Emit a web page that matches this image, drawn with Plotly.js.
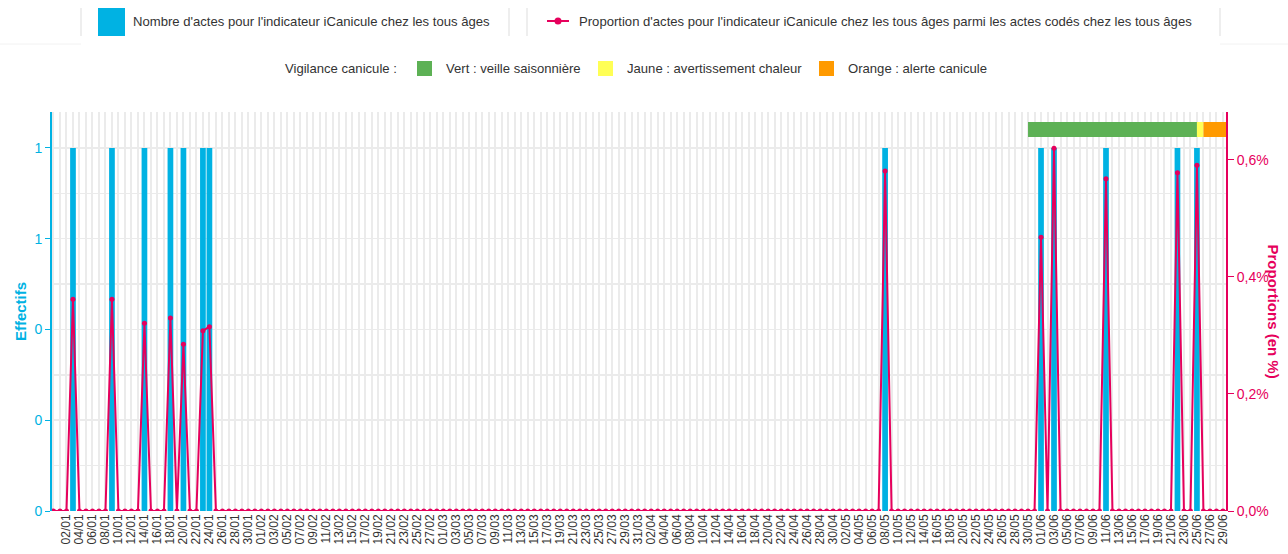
<!DOCTYPE html>
<html>
<head>
<meta charset="utf-8">
<script src="https://cdn.plot.ly/plotly-3.0.1.min.js"></script>
<style>
html,body{margin:0;padding:0;background:#fff;}
#chart{width:1288px;height:554px;}
</style>
</head>
<body>
<div id="chart"></div>
<script>
// ---------- DATA ----------
const dates = [
'2024-12-31',
'2025-01-01','2025-01-02','2025-01-03','2025-01-04','2025-01-05','2025-01-06','2025-01-07','2025-01-08','2025-01-09','2025-01-10',
'2025-01-11','2025-01-12','2025-01-13','2025-01-14','2025-01-15','2025-01-16','2025-01-17','2025-01-18','2025-01-19','2025-01-20',
'2025-01-21','2025-01-22','2025-01-23','2025-01-24','2025-01-25','2025-01-26','2025-01-27','2025-01-28','2025-01-29','2025-01-30','2025-01-31',
'2025-02-01','2025-02-02','2025-02-03','2025-02-04','2025-02-05','2025-02-06','2025-02-07','2025-02-08','2025-02-09','2025-02-10',
'2025-02-11','2025-02-12','2025-02-13','2025-02-14','2025-02-15','2025-02-16','2025-02-17','2025-02-18','2025-02-19','2025-02-20',
'2025-02-21','2025-02-22','2025-02-23','2025-02-24','2025-02-25','2025-02-26','2025-02-27','2025-02-28',
'2025-03-01','2025-03-02','2025-03-03','2025-03-04','2025-03-05','2025-03-06','2025-03-07','2025-03-08','2025-03-09','2025-03-10',
'2025-03-11','2025-03-12','2025-03-13','2025-03-14','2025-03-15','2025-03-16','2025-03-17','2025-03-18','2025-03-19','2025-03-20',
'2025-03-21','2025-03-22','2025-03-23','2025-03-24','2025-03-25','2025-03-26','2025-03-27','2025-03-28','2025-03-29','2025-03-30','2025-03-31',
'2025-04-01','2025-04-02','2025-04-03','2025-04-04','2025-04-05','2025-04-06','2025-04-07','2025-04-08','2025-04-09','2025-04-10',
'2025-04-11','2025-04-12','2025-04-13','2025-04-14','2025-04-15','2025-04-16','2025-04-17','2025-04-18','2025-04-19','2025-04-20',
'2025-04-21','2025-04-22','2025-04-23','2025-04-24','2025-04-25','2025-04-26','2025-04-27','2025-04-28','2025-04-29','2025-04-30',
'2025-05-01','2025-05-02','2025-05-03','2025-05-04','2025-05-05','2025-05-06','2025-05-07','2025-05-08','2025-05-09','2025-05-10',
'2025-05-11','2025-05-12','2025-05-13','2025-05-14','2025-05-15','2025-05-16','2025-05-17','2025-05-18','2025-05-19','2025-05-20',
'2025-05-21','2025-05-22','2025-05-23','2025-05-24','2025-05-25','2025-05-26','2025-05-27','2025-05-28','2025-05-29','2025-05-30','2025-05-31',
'2025-06-01','2025-06-02','2025-06-03','2025-06-04','2025-06-05','2025-06-06','2025-06-07','2025-06-08','2025-06-09','2025-06-10',
'2025-06-11','2025-06-12','2025-06-13','2025-06-14','2025-06-15','2025-06-16','2025-06-17','2025-06-18','2025-06-19','2025-06-20',
'2025-06-21','2025-06-22','2025-06-23','2025-06-24','2025-06-25','2025-06-26','2025-06-27','2025-06-28','2025-06-29','2025-06-30'
];

// Nombre d'actes (effectifs)
const counts = [
0,
0,0,1,0,0,0,0,0,1,0, 0,0,0,1,0,0,0,1,0,1, 0,0,1,1,0,0,0,0,0,0, 0,
0,0,0,0,0,0,0,0,0,0, 0,0,0,0,0,0,0,0,0,0, 0,0,0,0,0,0,0,0,
0,0,0,0,0,0,0,0,0,0, 0,0,0,0,0,0,0,0,0,0, 0,0,0,0,0,0,0,0,0,0, 0,
0,0,0,0,0,0,0,0,0,0, 0,0,0,0,0,0,0,0,0,0, 0,0,0,0,0,0,0,0,0,0,
0,0,0,0,0,0,0,1,0,0, 0,0,0,0,0,0,0,0,0,0, 0,0,0,0,0,0,0,0,0,0, 0,
1,0,1,0,0,0,0,0,0,0, 1,0,0,0,0,0,0,0,0,0, 0,1,0,0,1,0,0,0,0,0
];

// Proportion d'actes (en %)
const proportions = [
0,
0,0,0.362,0,0,0,0,0,0.362,0, 0,0,0,0.321,0,0,0,0.330,0,0.285, 0,0,0.308,0.315,0,0,0,0,0,0, 0,
0,0,0,0,0,0,0,0,0,0, 0,0,0,0,0,0,0,0,0,0, 0,0,0,0,0,0,0,0,
0,0,0,0,0,0,0,0,0,0, 0,0,0,0,0,0,0,0,0,0, 0,0,0,0,0,0,0,0,0,0, 0,
0,0,0,0,0,0,0,0,0,0, 0,0,0,0,0,0,0,0,0,0, 0,0,0,0,0,0,0,0,0,0,
0,0,0,0,0,0,0,0.581,0,0, 0,0,0,0,0,0,0,0,0,0, 0,0,0,0,0,0,0,0,0,0, 0,
0.468,0,0.620,0,0,0,0,0,0,0, 0.568,0,0,0,0,0,0,0,0,0, 0,0.578,0,0,0.591,0,0,0,0,0
];

// Vigilance canicule periods
const vigilanceStart = ['2025-05-30','2025-06-25','2025-06-26'];
const vigilanceEnd   = ['2025-06-25','2025-06-26','2025-07-01'];
const vigilanceLevel = ['Vert','Jaune','Orange'];

const leftTickVals = [0,0.25,0.5,0.75,1];
const leftTickText = ['0','0','0','1','1'];
const rightTickVals = [0,0.2,0.4,0.6];
const rightTickText = ['0,0%','0,2%','0,4%','0,6%'];

const seriesNames = [
  "Nombre d'actes pour l'indicateur iCanicule chez les tous âges",
  "Proportion d'actes pour l'indicateur iCanicule chez les tous âges parmi les actes codés chez les tous âges"
];
const vigilanceLabels = ["Vert : veille saisonnière","Jaune : avertissement chaleur","Orange : alerte canicule"];

// x tick labels: every second day starting on 02/01
const xTickVals = dates.filter((d, i) => i >= 2 && i % 2 === 0);

// ---------- STYLE ----------
const CYAN = '#00b2e3';
const PINK = '#e6005c';
const GRID = '#ebebeb';
const vigColors = {Vert:'#5db155', Jaune:'#ffff55', Orange:'#ff9a00'};
const FONT = 'Liberation Sans, Arial, sans-serif';

const W = 1288, H = 554, ML = 52, MR = 62, MT = 112, MB = 43;
const PW = W - ML - MR, PH = H - MT - MB;
const X = p => (p - ML) / PW;
const Y = p => (H - MB - p) / PH;
const xRange = ['2024-12-30 18:30', '2025-06-29 11:20'];

const traces = [
  {
    type:'bar', x:dates, y:counts, name:seriesNames[0],
    marker:{color:CYAN}, yaxis:'y', hoverinfo:'skip'
  },
  {
    type:'scatter', mode:'lines+markers', x:dates, y:proportions, name:seriesNames[1],
    line:{color:PINK, width:2}, marker:{color:PINK, size:5}, yaxis:'y2', hoverinfo:'skip'
  }
];

const shapes = [];
const annotations = [];

// vigilance strip
for (let i = 0; i < vigilanceStart.length; i++) {
  const x1 = vigilanceEnd[i] > xRange[1] ? xRange[1] : vigilanceEnd[i];
  shapes.push({type:'rect', xref:'x', yref:'paper', x0:vigilanceStart[i], x1:x1,
    y0:Y(137), y1:Y(122), fillcolor:vigColors[vigilanceLevel[i]], line:{width:0}, layer:'above'});
}

// legend row 1
[81, 509, 527, 1220].forEach(p => shapes.push({type:'line', xref:'paper', yref:'paper',
  x0:X(p), x1:X(p), y0:Y(8), y1:Y(36), line:{color:'#dddddd', width:1}}));
shapes.push({type:'line', xref:'paper', yref:'paper', x0:X(0), x1:X(81), y0:Y(44), y1:Y(44), line:{color:'#f2f2f2', width:1}});
shapes.push({type:'line', xref:'paper', yref:'paper', x0:X(1220), x1:X(1288), y0:Y(44), y1:Y(44), line:{color:'#f2f2f2', width:1}});
shapes.push({type:'rect', xref:'paper', yref:'paper', x0:X(98), x1:X(125), y0:Y(36), y1:Y(8), fillcolor:CYAN, line:{width:0}});
shapes.push({type:'line', xref:'paper', yref:'paper', x0:X(547), x1:X(569), y0:Y(21), y1:Y(21), line:{color:PINK, width:2}});
shapes.push({type:'circle', xref:'paper', yref:'paper', x0:X(554.5), x1:X(561.5), y0:Y(24.5), y1:Y(17.5), fillcolor:PINK, line:{width:0}});
annotations.push({xref:'paper', yref:'paper', x:X(131), y:Y(22), xanchor:'left', yanchor:'middle', showarrow:false,
  text:seriesNames[0], font:{family:FONT, size:13.1, color:'#333'}});
annotations.push({xref:'paper', yref:'paper', x:X(577), y:Y(22), xanchor:'left', yanchor:'middle', showarrow:false,
  text:seriesNames[1], font:{family:FONT, size:13.1, color:'#333'}});

// legend row 2
annotations.push({xref:'paper', yref:'paper', x:X(283), y:Y(69), xanchor:'left', yanchor:'middle', showarrow:false,
  text:'Vigilance canicule :', font:{family:FONT, size:13.1, color:'#333'}});
const sqX = [417, 598, 819];
const txX = [444, 625, 846];
vigilanceLevel.forEach((lvl, i) => {
  shapes.push({type:'rect', xref:'paper', yref:'paper', x0:X(sqX[i]), x1:X(sqX[i] + 15), y0:Y(76), y1:Y(61),
    fillcolor:vigColors[lvl], line:{width:0}});
  annotations.push({xref:'paper', yref:'paper', x:X(txX[i]), y:Y(69), xanchor:'left', yanchor:'middle', showarrow:false,
    text:vigilanceLabels[i], font:{family:FONT, size:13.1, color:'#333'}});
});

// right axis title
annotations.push({xref:'paper', yref:'paper', x:X(1273), y:0.5, xanchor:'center', yanchor:'middle', showarrow:false,
  textangle:90, text:'<b>Proportions (en %)</b>', font:{family:FONT, size:15, color:PINK}});

const layout = {
  width:W, height:H,
  margin:{l:ML, r:MR, t:MT, b:MB, pad:0},
  paper_bgcolor:'#fff', plot_bgcolor:'#fff',
  showlegend:false, hovermode:false,
  separators:', ',
  bargap:0.12,
  font:{family:FONT, size:12, color:'#333'},
  xaxis:{
    type:'date', range:xRange,
    tickmode:'array', tickvals:xTickVals, tickformat:'%d/%m', tickangle:-90,
    tickfont:{family:FONT, size:12, color:'#333'},
    showgrid:true, gridcolor:GRID, gridwidth:2,
    minor:{tick0:'2025-01-01', dtick:86400000, showgrid:true, gridcolor:GRID, gridwidth:2},
    ticks:'', showline:false, zeroline:false
  },
  yaxis:{
    range:[0, 1.099], tickmode:'array', tickvals:leftTickVals, ticktext:leftTickText,
    tickfont:{family:FONT, size:14, color:CYAN},
    showline:true, linecolor:CYAN, linewidth:2,
    ticks:'outside', tickcolor:CYAN, ticklen:5, tickwidth:1,
    showgrid:true, gridcolor:GRID, gridwidth:1.5,
    minor:{dtick:0.125, tick0:0, showgrid:true, gridcolor:GRID, gridwidth:1.5},
    zeroline:false,
    title:{text:'<b>Effectifs</b>', font:{family:FONT, size:15, color:CYAN}, standoff:4}
  },
  yaxis2:{
    overlaying:'y', side:'right', range:[0, 0.682],
    tickmode:'array', tickvals:rightTickVals, ticktext:rightTickText,
    tickfont:{family:FONT, size:14, color:PINK},
    showline:true, linecolor:PINK, linewidth:2,
    ticks:'outside', tickcolor:PINK, ticklen:6, tickwidth:1,
    showgrid:false, zeroline:false
  },
  shapes:shapes,
  annotations:annotations
};

Plotly.newPlot('chart', traces, layout, {displayModeBar:false, staticPlot:true});
</script>
</body>
</html>
